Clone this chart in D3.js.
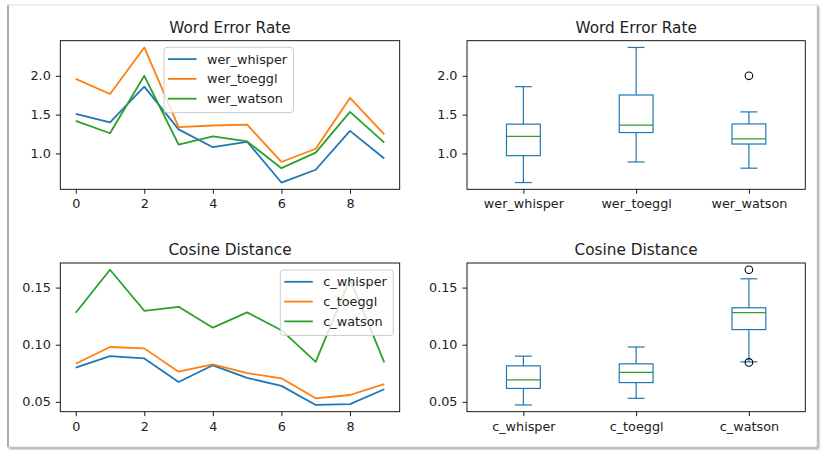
<!DOCTYPE html>
<meta charset="utf-8">
<script src="https://d3js.org/d3.v7.min.js"></script>
<style>
  body { margin: 0; background: #fff; }
  svg text { font-family: "DejaVu Sans", sans-serif; fill: #222; }
</style>
<div id="chart"></div>
<script>
// run index on the x axis of the line plots
const runs = [0, 1, 2, 3, 4, 5, 6, 7, 8, 9];
const xTicks = [0, 2, 4, 6, 8];

// word error rate per run
const werNames = ["wer_whisper", "wer_toeggl", "wer_watson"];
const werWhisper = [1.51, 1.40, 1.86, 1.31, 1.08, 1.15, 0.625, 0.79, 1.29, 0.935];
const werToeggl  = [1.96, 1.765, 2.365, 1.34, 1.36, 1.37, 0.89, 1.06, 1.715, 1.245];
const werWatson  = [1.42, 1.26, 2.0, 1.115, 1.22, 1.155, 0.81, 1.01, 1.535, 1.14];
const werTicks = [1.0, 1.5, 2.0];

// cosine distance per run
const cosNames = ["c_whisper", "c_toeggl", "c_watson"];
const cWhisper = [0.080, 0.090, 0.088, 0.0674, 0.082, 0.071, 0.064, 0.0473, 0.048, 0.061];
const cToeggl  = [0.0834, 0.098, 0.0968, 0.0764, 0.0828, 0.0752, 0.0706, 0.0531, 0.056, 0.0656];
const cWatson  = [0.128, 0.1656, 0.1297, 0.1332, 0.1149, 0.1283, 0.1127, 0.0850, 0.1577, 0.0845];
const cosTicks = [0.05, 0.10, 0.15];

const colors = ["#1f77b4", "#ff7f0e", "#2ca02c"];

const W = 826, H = 458;
const svg = d3.select("#chart").append("svg")
  .attr("width", W).attr("height", H);

// screenshot style card with a soft shadow
svg.append("defs").append("filter").attr("id", "blur")
  .append("feGaussianBlur").attr("stdDeviation", 1.3);
svg.append("rect")
  .attr("x", 9).attr("y", 6).attr("width", 810).attr("height", 443)
  .attr("fill", "#999").attr("filter", "url(#blur)");
svg.append("rect")
  .attr("x", 8).attr("y", 5).attr("width", 809).attr("height", 442)
  .attr("fill", "#fff").attr("stroke", "#ddd");
svg.append("line")
  .attr("x1", 8).attr("x2", 8).attr("y1", 5).attr("y2", 447)
  .attr("stroke", "#9a9a9a").attr("stroke-width", 1.5);

const colL = [60.3, 399.7], colR = [467, 805.3];
const rowT = [40.7, 189.3], rowB = [263, 411.7];

// matplotlib style 5% margins
function pad([a, b]) {
  const m = (b - a) * 0.05;
  return [a - m, b + m];
}

function styleAxis(a) {
  a.select(".domain").remove();
  a.selectAll(".tick line").attr("stroke", "#000").attr("stroke-width", 0.9);
  a.selectAll(".tick text").attr("font-size", 12.8).attr("fill", "#222");
}

function makePanel(cols, rows, title) {
  const w = cols[1] - cols[0], h = rows[1] - rows[0];
  const g = svg.append("g").attr("transform", `translate(${cols[0]},${rows[0]})`);
  g.append("text")
    .attr("x", w / 2).attr("y", -8)
    .attr("text-anchor", "middle")
    .attr("font-size", 15.3)
    .text(title);
  return {g, w, h};
}

function frame(p) {
  p.g.append("rect")
    .attr("width", p.w).attr("height", p.h)
    .attr("fill", "none").attr("stroke", "#000").attr("stroke-width", 0.9);
}

function yAxis(p, y, ticks, fmt) {
  p.g.append("g")
    .call(d3.axisLeft(y).tickValues(ticks).tickFormat(d3.format(fmt))
      .tickSize(4.5).tickPadding(5))
    .call(styleAxis);
}

function linePanel(cols, rows, title, series, names, ticks, fmt, legend) {
  const p = makePanel(cols, rows, title);
  const x = d3.scaleLinear().domain(pad(d3.extent(runs))).range([0, p.w]);
  const y = d3.scaleLinear().domain(pad(d3.extent(series.flat()))).range([p.h, 0]);

  p.g.append("g")
    .attr("transform", `translate(0,${p.h})`)
    .call(d3.axisBottom(x).tickValues(xTicks).tickFormat(d3.format("d"))
      .tickSize(4.5).tickPadding(5.5))
    .call(styleAxis);
  yAxis(p, y, ticks, fmt);

  const line = d3.line().x((d, i) => x(runs[i])).y(d => y(d));
  p.g.selectAll(".series")
    .data(series)
    .join("path")
      .attr("fill", "none")
      .attr("stroke", (d, i) => colors[i])
      .attr("stroke-width", 1.8)
      .attr("stroke-linejoin", "round")
      .attr("d", line);

  frame(p);

  // legend
  const lg = p.g.append("g");
  const box = lg.append("rect")
    .attr("rx", 3)
    .attr("fill", "#fff").attr("fill-opacity", 0.8)
    .attr("stroke", "#ccc");
  const rows2 = lg.selectAll(".row")
    .data(names)
    .join("g")
      .attr("transform", (d, i) => `translate(0,${11.8 + i * 19.8})`);
  rows2.append("line")
    .attr("x1", 4).attr("x2", 32.5)
    .attr("stroke", (d, i) => colors[i]).attr("stroke-width", 1.8);
  rows2.append("text")
    .attr("x", 43).attr("dy", "0.35em")
    .attr("font-size", 12.8)
    .text(d => d);
  const tw = d3.max(rows2.selectAll("text").nodes(), n => n.getComputedTextLength());
  const bw = 43 + tw + 6.5, bh = 65.4;
  box.attr("width", bw).attr("height", bh);
  const lx = legend.right != null ? p.w - legend.right - bw : legend.left;
  lg.attr("transform", `translate(${lx},${legend.top})`);
}

function boxPanel(cols, rows, title, series, names, ticks, fmt) {
  const p = makePanel(cols, rows, title);
  const x = d3.scalePoint().domain(names).range([0, p.w]).padding(0.5);
  const y = d3.scaleLinear().domain(pad(d3.extent(series.flat()))).range([p.h, 0]);

  p.g.append("g")
    .attr("transform", `translate(0,${p.h})`)
    .call(d3.axisBottom(x).tickSize(4.5).tickPadding(5.5))
    .call(styleAxis);
  yAxis(p, y, ticks, fmt);

  const bw = x.step() * 0.3, cw = bw / 2;
  const blue = "#1f77b4";

  series.forEach((vals, i) => {
    const s = d3.sort(vals);
    const q1 = d3.quantileSorted(s, 0.25);
    const med = d3.quantileSorted(s, 0.5);
    const q3 = d3.quantileSorted(s, 0.75);
    const iqr = q3 - q1;
    const lo = d3.min(s.filter(v => v >= q1 - 1.5 * iqr));
    const hi = d3.max(s.filter(v => v <= q3 + 1.5 * iqr));
    const fliers = s.filter(v => v < lo || v > hi);
    const cx = x(names[i]);
    const bg = p.g.append("g")
      .attr("stroke-width", 1.2).attr("fill", "none");

    bg.append("line").attr("x1", cx).attr("x2", cx)
      .attr("y1", y(q3)).attr("y2", y(hi)).attr("stroke", blue);
    bg.append("line").attr("x1", cx).attr("x2", cx)
      .attr("y1", y(q1)).attr("y2", y(lo)).attr("stroke", blue);
    [lo, hi].forEach(v => {
      bg.append("line")
        .attr("x1", cx - cw / 2).attr("x2", cx + cw / 2)
        .attr("y1", y(v)).attr("y2", y(v)).attr("stroke", blue);
    });
    bg.append("rect")
      .attr("x", cx - bw / 2).attr("width", bw)
      .attr("y", y(q3)).attr("height", y(q1) - y(q3))
      .attr("stroke", blue);
    bg.append("line")
      .attr("x1", cx - bw / 2).attr("x2", cx + bw / 2)
      .attr("y1", y(med)).attr("y2", y(med))
      .attr("stroke", "#2ca02c");
    bg.selectAll(".flier")
      .data(fliers)
      .join("circle")
        .attr("cx", cx).attr("cy", d => y(d)).attr("r", 3.8)
        .attr("stroke", "#000").attr("stroke-width", 1.1);
  });

  frame(p);
}

linePanel(colL, rowT, "Word Error Rate", [werWhisper, werToeggl, werWatson], werNames,
  werTicks, ".1f", {left: 103.7, top: 6.6});
boxPanel(colR, rowT, "Word Error Rate", [werWhisper, werToeggl, werWatson], werNames,
  werTicks, ".1f");
linePanel(colL, rowB, "Cosine Distance", [cWhisper, cToeggl, cWatson], cosNames,
  cosTicks, ".2f", {right: 6.4, top: 7});
boxPanel(colR, rowB, "Cosine Distance", [cWhisper, cToeggl, cWatson], cosNames,
  cosTicks, ".2f");
</script>
